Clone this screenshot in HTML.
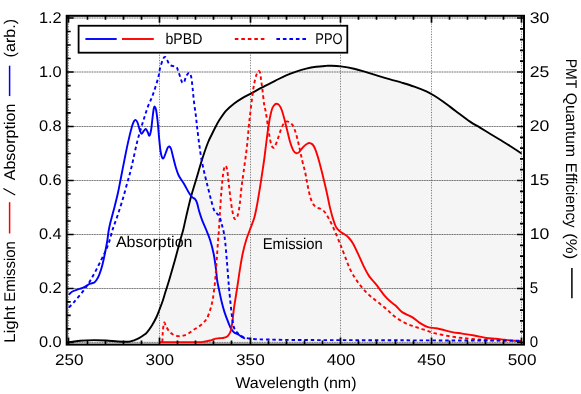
<!DOCTYPE html>
<html><head><meta charset="utf-8"><title>plot</title>
<style>html,body{margin:0;padding:0;background:#fff}svg{display:block;will-change:transform}text{font-family:"Liberation Sans",sans-serif;font-size:15.5px;fill:#000;text-rendering:geometricPrecision}</style>
</head><body>
<svg width="581" height="394" viewBox="0 0 581 394">
<rect width="581" height="394" fill="#fff"/>
<path d="M68.90 342.20 C70.75 341.95 75.80 341.05 80.00 340.70 C84.20 340.35 89.75 340.13 94.10 340.10 C98.45 340.07 102.10 340.27 106.10 340.50 C110.10 340.73 114.37 341.30 118.10 341.50 C121.83 341.70 125.85 341.90 128.50 341.70 C131.15 341.50 132.25 340.90 134.00 340.30 C135.75 339.70 137.42 338.93 139.00 338.10 C140.58 337.27 142.17 336.27 143.50 335.30 C144.83 334.33 145.60 333.93 147.00 332.30 C148.40 330.67 150.32 328.05 151.90 325.50 C153.48 322.95 155.27 319.58 156.50 317.00 C157.73 314.42 158.30 312.58 159.30 310.00 C160.30 307.42 161.48 304.50 162.50 301.50 C163.52 298.50 164.38 295.25 165.40 292.00 C166.42 288.75 167.48 285.67 168.60 282.00 C169.72 278.33 170.82 274.48 172.10 270.00 C173.38 265.52 174.93 260.10 176.30 255.10 C177.67 250.10 179.13 244.27 180.30 240.00 C181.47 235.73 182.30 233.48 183.30 229.50 C184.30 225.52 184.98 221.67 186.30 216.10 C187.62 210.53 189.43 202.62 191.20 196.10 C192.97 189.58 195.37 182.18 196.90 177.00 C198.43 171.82 199.18 169.00 200.40 165.00 C201.62 161.00 202.90 156.83 204.20 153.00 C205.50 149.17 206.82 145.33 208.20 142.00 C209.58 138.67 211.20 135.67 212.50 133.00 C213.80 130.33 215.00 127.93 216.00 126.00 C217.00 124.07 216.88 123.88 218.50 121.40 C220.12 118.92 223.13 114.05 225.70 111.10 C228.27 108.15 231.13 105.87 233.90 103.70 C236.67 101.53 239.48 99.78 242.30 98.10 C245.12 96.42 247.58 95.33 250.80 93.60 C254.02 91.87 257.57 89.82 261.60 87.70 C265.63 85.58 270.90 82.97 275.00 80.90 C279.10 78.83 282.67 76.85 286.20 75.30 C289.73 73.75 292.87 72.70 296.20 71.60 C299.53 70.50 302.87 69.50 306.20 68.70 C309.53 67.90 312.90 67.27 316.20 66.80 C319.50 66.33 323.53 66.08 326.00 65.90 C328.47 65.72 328.53 65.62 331.00 65.70 C333.47 65.78 336.95 65.88 340.80 66.40 C344.65 66.92 349.88 67.83 354.10 68.80 C358.32 69.77 362.08 71.03 366.10 72.20 C370.12 73.37 374.18 74.60 378.20 75.80 C382.22 77.00 386.18 78.23 390.20 79.40 C394.22 80.57 398.28 81.60 402.30 82.80 C406.32 84.00 410.28 85.17 414.30 86.60 C418.32 88.03 423.18 89.95 426.40 91.40 C429.62 92.85 430.78 93.57 433.60 95.30 C436.42 97.03 439.68 99.23 443.30 101.80 C446.92 104.37 450.85 107.40 455.30 110.70 C459.75 114.00 465.88 118.78 470.00 121.60 C474.12 124.42 476.67 125.58 480.00 127.60 C483.33 129.62 486.67 131.67 490.00 133.70 C493.33 135.73 496.67 137.75 500.00 139.80 C503.33 141.85 506.40 143.70 510.00 146.00 C513.60 148.30 519.67 152.33 521.60 153.60 L521.60 342.50 L68.90 342.50 Z" fill="#f5f5f5" stroke="none"/>
<g stroke="#000" stroke-width="1" fill="none">
<path d="M68.50 15.80 V344.60" opacity="0.05"/>
<path d="M68.50 15.80 V344.60" stroke-dasharray="1 1.6" opacity="0.5"/>
<path d="M159.50 15.80 V344.60" opacity="0.05"/>
<path d="M159.50 15.80 V344.60" stroke-dasharray="1 1.6" opacity="0.5"/>
<path d="M250.50 15.80 V344.60" opacity="0.05"/>
<path d="M250.50 15.80 V344.60" stroke-dasharray="1 1.6" opacity="0.5"/>
<path d="M340.50 15.80 V344.60" opacity="0.05"/>
<path d="M340.50 15.80 V344.60" stroke-dasharray="1 1.6" opacity="0.5"/>
<path d="M431.50 15.80 V344.60" opacity="0.05"/>
<path d="M431.50 15.80 V344.60" stroke-dasharray="1 1.6" opacity="0.5"/>
<path d="M521.50 15.80 V344.60" opacity="0.05"/>
<path d="M521.50 15.80 V344.60" stroke-dasharray="1 1.6" opacity="0.5"/>
<path d="M66.70 342.40 H524.00" opacity="0.2"/>
<path d="M66.70 342.40 H524.00" stroke-dasharray="1.5 1" opacity="0.4"/>
<path d="M66.70 288.50 H524.00" opacity="0.2"/>
<path d="M66.70 288.50 H524.00" stroke-dasharray="1.5 1" opacity="0.4"/>
<path d="M66.70 234.50 H524.00" opacity="0.2"/>
<path d="M66.70 234.50 H524.00" stroke-dasharray="1.5 1" opacity="0.4"/>
<path d="M66.70 180.50 H524.00" opacity="0.2"/>
<path d="M66.70 180.50 H524.00" stroke-dasharray="1.5 1" opacity="0.4"/>
<path d="M66.70 126.50 H524.00" opacity="0.2"/>
<path d="M66.70 126.50 H524.00" stroke-dasharray="1.5 1" opacity="0.4"/>
<path d="M66.70 72.00 H524.00" opacity="0.2"/>
<path d="M66.70 72.00 H524.00" stroke-dasharray="1.5 1" opacity="0.4"/>
<path d="M66.70 18.00 H524.00" opacity="0.2"/>
<path d="M66.70 18.00 H524.00" stroke-dasharray="1.5 1" opacity="0.4"/>
</g>
<path d="M68.90 342.20 C70.75 341.95 75.80 341.05 80.00 340.70 C84.20 340.35 89.75 340.13 94.10 340.10 C98.45 340.07 102.10 340.27 106.10 340.50 C110.10 340.73 114.37 341.30 118.10 341.50 C121.83 341.70 125.85 341.90 128.50 341.70 C131.15 341.50 132.25 340.90 134.00 340.30 C135.75 339.70 137.42 338.93 139.00 338.10 C140.58 337.27 142.17 336.27 143.50 335.30 C144.83 334.33 145.60 333.93 147.00 332.30 C148.40 330.67 150.32 328.05 151.90 325.50 C153.48 322.95 155.27 319.58 156.50 317.00 C157.73 314.42 158.30 312.58 159.30 310.00 C160.30 307.42 161.48 304.50 162.50 301.50 C163.52 298.50 164.38 295.25 165.40 292.00 C166.42 288.75 167.48 285.67 168.60 282.00 C169.72 278.33 170.82 274.48 172.10 270.00 C173.38 265.52 174.93 260.10 176.30 255.10 C177.67 250.10 179.13 244.27 180.30 240.00 C181.47 235.73 182.30 233.48 183.30 229.50 C184.30 225.52 184.98 221.67 186.30 216.10 C187.62 210.53 189.43 202.62 191.20 196.10 C192.97 189.58 195.37 182.18 196.90 177.00 C198.43 171.82 199.18 169.00 200.40 165.00 C201.62 161.00 202.90 156.83 204.20 153.00 C205.50 149.17 206.82 145.33 208.20 142.00 C209.58 138.67 211.20 135.67 212.50 133.00 C213.80 130.33 215.00 127.93 216.00 126.00 C217.00 124.07 216.88 123.88 218.50 121.40 C220.12 118.92 223.13 114.05 225.70 111.10 C228.27 108.15 231.13 105.87 233.90 103.70 C236.67 101.53 239.48 99.78 242.30 98.10 C245.12 96.42 247.58 95.33 250.80 93.60 C254.02 91.87 257.57 89.82 261.60 87.70 C265.63 85.58 270.90 82.97 275.00 80.90 C279.10 78.83 282.67 76.85 286.20 75.30 C289.73 73.75 292.87 72.70 296.20 71.60 C299.53 70.50 302.87 69.50 306.20 68.70 C309.53 67.90 312.90 67.27 316.20 66.80 C319.50 66.33 323.53 66.08 326.00 65.90 C328.47 65.72 328.53 65.62 331.00 65.70 C333.47 65.78 336.95 65.88 340.80 66.40 C344.65 66.92 349.88 67.83 354.10 68.80 C358.32 69.77 362.08 71.03 366.10 72.20 C370.12 73.37 374.18 74.60 378.20 75.80 C382.22 77.00 386.18 78.23 390.20 79.40 C394.22 80.57 398.28 81.60 402.30 82.80 C406.32 84.00 410.28 85.17 414.30 86.60 C418.32 88.03 423.18 89.95 426.40 91.40 C429.62 92.85 430.78 93.57 433.60 95.30 C436.42 97.03 439.68 99.23 443.30 101.80 C446.92 104.37 450.85 107.40 455.30 110.70 C459.75 114.00 465.88 118.78 470.00 121.60 C474.12 124.42 476.67 125.58 480.00 127.60 C483.33 129.62 486.67 131.67 490.00 133.70 C493.33 135.73 496.67 137.75 500.00 139.80 C503.33 141.85 506.40 143.70 510.00 146.00 C513.60 148.30 519.67 152.33 521.60 153.60" fill="none" stroke="#000" stroke-width="1.9" stroke-linejoin="round"/>
<path d="M68.90 294.60 C69.42 294.12 70.65 292.52 72.00 291.70 C73.35 290.88 75.33 290.30 77.00 289.70 C78.67 289.10 80.48 288.70 82.00 288.10 C83.52 287.50 84.75 286.83 86.10 286.10 C87.45 285.37 88.77 284.27 90.10 283.70 C91.43 283.13 93.03 283.30 94.10 282.70 C95.17 282.10 95.67 281.37 96.50 280.10 C97.33 278.83 98.17 277.43 99.10 275.10 C100.03 272.77 101.05 270.12 102.10 266.10 C103.15 262.08 104.52 255.35 105.40 251.00 C106.28 246.65 106.87 243.33 107.40 240.00 C107.93 236.67 108.08 233.98 108.60 231.00 C109.12 228.02 109.65 225.58 110.50 222.10 C111.35 218.62 112.50 214.78 113.70 210.10 C114.90 205.42 116.53 199.18 117.70 194.00 C118.87 188.82 119.58 184.65 120.70 179.00 C121.82 173.35 123.17 166.25 124.40 160.10 C125.63 153.95 126.82 147.77 128.10 142.10 C129.38 136.43 131.10 129.62 132.10 126.10 C133.10 122.58 133.50 122.02 134.10 121.00 C134.70 119.98 135.10 119.67 135.70 120.00 C136.30 120.33 137.03 121.33 137.70 123.00 C138.37 124.67 139.07 128.22 139.70 130.00 C140.33 131.78 140.83 133.53 141.50 133.70 C142.17 133.87 143.00 131.78 143.70 131.00 C144.40 130.22 145.03 128.83 145.70 129.00 C146.37 129.17 147.10 130.88 147.70 132.00 C148.30 133.12 148.73 136.03 149.30 135.70 C149.87 135.37 150.57 132.95 151.10 130.00 C151.63 127.05 152.07 121.50 152.50 118.00 C152.93 114.50 153.33 110.90 153.70 109.00 C154.07 107.10 154.30 106.43 154.70 106.60 C155.10 106.77 155.60 107.43 156.10 110.00 C156.60 112.57 157.20 117.33 157.70 122.00 C158.20 126.67 158.63 133.17 159.10 138.00 C159.57 142.83 160.00 147.72 160.50 151.00 C161.00 154.28 161.57 156.53 162.10 157.70 C162.63 158.87 163.10 158.78 163.70 158.00 C164.30 157.22 165.03 154.72 165.70 153.00 C166.37 151.28 167.10 148.78 167.70 147.70 C168.30 146.62 168.73 146.28 169.30 146.50 C169.87 146.72 170.47 147.25 171.10 149.00 C171.73 150.75 172.28 153.83 173.10 157.00 C173.92 160.17 175.07 164.92 176.00 168.00 C176.93 171.08 177.35 172.83 178.70 175.50 C180.05 178.17 182.37 181.07 184.10 184.00 C185.83 186.93 187.77 190.92 189.10 193.10 C190.43 195.28 191.10 196.10 192.10 197.10 C193.10 198.10 194.27 198.10 195.10 199.10 C195.93 200.10 196.43 201.10 197.10 203.10 C197.77 205.10 198.27 208.27 199.10 211.10 C199.93 213.93 200.93 217.03 202.10 220.10 C203.27 223.17 204.77 226.18 206.10 229.50 C207.43 232.82 208.83 235.92 210.10 240.00 C211.37 244.08 212.70 248.98 213.70 254.00 C214.70 259.02 215.53 265.77 216.10 270.10 C216.67 274.43 216.60 276.68 217.10 280.00 C217.60 283.32 218.33 286.33 219.10 290.00 C219.87 293.67 220.80 298.32 221.70 302.00 C222.60 305.68 223.42 308.75 224.50 312.10 C225.58 315.45 227.08 319.27 228.20 322.10 C229.32 324.93 230.20 327.37 231.20 329.10 C232.20 330.83 233.03 331.60 234.20 332.50 C235.37 333.40 236.87 333.73 238.20 334.50 C239.53 335.27 241.07 336.43 242.20 337.10 C243.33 337.77 244.53 338.27 245.00 338.50" fill="none" stroke="#0000ff" stroke-width="1.9" stroke-linejoin="round"/>
<path d="M160.00 342.10 C166.02 342.10 188.75 342.17 196.10 342.10 C203.45 342.03 201.77 341.97 204.10 341.70 C206.43 341.43 208.43 340.93 210.10 340.50 C211.77 340.07 212.60 339.47 214.10 339.10 C215.60 338.73 217.43 338.53 219.10 338.30 C220.77 338.07 222.75 338.00 224.10 337.70 C225.45 337.40 226.25 337.27 227.20 336.50 C228.15 335.73 229.13 334.33 229.80 333.10 C230.47 331.87 230.73 331.27 231.20 329.10 C231.67 326.93 232.13 323.60 232.60 320.10 C233.07 316.60 233.45 312.12 234.00 308.10 C234.55 304.08 235.25 300.18 235.90 296.00 C236.55 291.82 237.25 287.32 237.90 283.00 C238.55 278.68 239.02 274.93 239.80 270.10 C240.58 265.27 241.53 259.02 242.60 254.00 C243.67 248.98 245.00 244.00 246.20 240.00 C247.40 236.00 248.47 233.65 249.80 230.00 C251.13 226.35 252.97 222.42 254.20 218.10 C255.43 213.78 256.25 209.10 257.20 204.10 C258.15 199.10 259.07 193.28 259.90 188.10 C260.73 182.92 261.45 178.02 262.20 173.00 C262.95 167.98 263.58 164.15 264.40 158.00 C265.22 151.85 266.33 141.93 267.10 136.10 C267.87 130.27 268.42 126.60 269.00 123.00 C269.58 119.40 270.03 117.00 270.60 114.50 C271.17 112.00 271.75 109.62 272.40 108.00 C273.05 106.38 273.82 105.50 274.50 104.80 C275.18 104.10 275.73 103.77 276.50 103.80 C277.27 103.83 278.23 103.97 279.10 105.00 C279.97 106.03 280.87 107.83 281.70 110.00 C282.53 112.17 283.20 114.67 284.10 118.00 C285.00 121.33 286.10 125.98 287.10 130.00 C288.10 134.02 289.10 138.75 290.10 142.10 C291.10 145.45 292.10 148.27 293.10 150.10 C294.10 151.93 295.10 152.77 296.10 153.10 C297.10 153.43 297.93 153.10 299.10 152.10 C300.27 151.10 301.75 148.50 303.10 147.10 C304.45 145.70 306.08 144.37 307.20 143.70 C308.32 143.03 308.90 142.97 309.80 143.10 C310.70 143.23 311.70 143.50 312.60 144.50 C313.50 145.50 314.27 146.83 315.20 149.10 C316.13 151.37 317.17 154.60 318.20 158.10 C319.23 161.60 320.42 166.28 321.40 170.10 C322.38 173.92 323.15 177.02 324.10 181.00 C325.05 184.98 326.10 189.48 327.10 194.00 C328.10 198.52 329.10 203.92 330.10 208.10 C331.10 212.28 332.10 215.93 333.10 219.10 C334.10 222.27 334.93 225.03 336.10 227.10 C337.27 229.17 338.77 230.33 340.10 231.50 C341.43 232.67 342.70 233.10 344.10 234.10 C345.50 235.10 347.02 235.93 348.50 237.50 C349.98 239.07 351.23 240.40 353.00 243.50 C354.77 246.60 357.25 252.17 359.10 256.10 C360.95 260.03 362.43 263.77 364.10 267.10 C365.77 270.43 367.43 273.60 369.10 276.10 C370.77 278.60 372.43 280.07 374.10 282.10 C375.77 284.13 377.43 286.13 379.10 288.30 C380.77 290.47 382.27 292.93 384.10 295.10 C385.93 297.27 388.10 299.48 390.10 301.30 C392.10 303.12 394.10 304.20 396.10 306.00 C398.10 307.80 399.43 310.25 402.10 312.10 C404.77 313.95 409.10 315.27 412.10 317.10 C415.10 318.93 417.43 321.43 420.10 323.10 C422.77 324.77 425.43 326.25 428.10 327.10 C430.77 327.95 433.43 327.70 436.10 328.20 C438.77 328.70 441.42 329.45 444.10 330.10 C446.78 330.75 449.18 331.52 452.20 332.10 C455.22 332.68 458.53 333.03 462.20 333.60 C465.87 334.17 470.20 334.77 474.20 335.50 C478.20 336.23 482.60 337.45 486.20 338.00 C489.80 338.55 492.65 338.50 495.80 338.80 C498.95 339.10 502.00 339.48 505.10 339.80 C508.20 340.12 511.65 340.48 514.40 340.70 C517.15 340.92 520.40 341.03 521.60 341.10" fill="none" stroke="#ff0000" stroke-width="1.9" stroke-linejoin="round"/>
<path d="M162.40 342.00 C162.43 340.83 162.50 336.98 162.60 335.00 C162.70 333.02 162.77 332.18 163.00 330.10 C163.23 328.02 163.50 323.17 164.00 322.50 C164.50 321.83 165.17 324.67 166.00 326.10 C166.83 327.53 167.83 329.70 169.00 331.10 C170.17 332.50 171.48 333.67 173.00 334.50 C174.52 335.33 176.42 335.90 178.10 336.10 C179.78 336.30 181.43 336.10 183.10 335.70 C184.77 335.30 186.43 334.63 188.10 333.70 C189.77 332.77 191.43 331.20 193.10 330.10 C194.77 329.00 196.43 328.27 198.10 327.10 C199.77 325.93 201.60 324.60 203.10 323.10 C204.60 321.60 205.93 320.27 207.10 318.10 C208.27 315.93 209.32 312.45 210.10 310.10 C210.88 307.75 211.32 306.02 211.80 304.00 C212.28 301.98 212.60 300.50 213.00 298.00 C213.40 295.50 213.83 292.00 214.20 289.00 C214.57 286.00 214.78 284.82 215.20 280.00 C215.62 275.18 216.22 266.77 216.70 260.10 C217.18 253.43 217.70 245.35 218.10 240.00 C218.50 234.65 218.77 232.98 219.10 228.00 C219.43 223.02 219.70 216.42 220.10 210.10 C220.50 203.78 221.00 196.12 221.50 190.10 C222.00 184.08 222.60 177.85 223.10 174.00 C223.60 170.15 224.05 168.33 224.50 167.00 C224.95 165.67 225.35 165.50 225.80 166.00 C226.25 166.50 226.73 167.33 227.20 170.00 C227.67 172.67 228.10 177.65 228.60 182.00 C229.10 186.35 229.60 191.42 230.20 196.10 C230.80 200.78 231.53 206.43 232.20 210.10 C232.87 213.77 233.60 216.67 234.20 218.10 C234.80 219.53 235.20 219.20 235.80 218.70 C236.40 218.20 237.13 217.53 237.80 215.10 C238.47 212.67 239.20 208.60 239.80 204.10 C240.40 199.60 240.77 193.45 241.40 188.10 C242.03 182.75 242.67 179.00 243.60 172.00 C244.53 165.00 246.13 153.68 247.00 146.10 C247.87 138.52 248.25 132.02 248.80 126.50 C249.35 120.98 249.75 117.73 250.30 113.00 C250.85 108.27 251.47 102.92 252.10 98.10 C252.73 93.28 253.33 88.12 254.10 84.10 C254.87 80.08 255.92 76.18 256.70 74.00 C257.48 71.82 258.22 71.12 258.80 71.00 C259.38 70.88 259.82 71.78 260.20 73.30 C260.58 74.82 260.72 77.30 261.10 80.10 C261.48 82.90 262.00 86.10 262.50 90.10 C263.00 94.10 263.55 100.45 264.10 104.10 C264.65 107.75 265.27 109.02 265.80 112.00 C266.33 114.98 266.75 118.33 267.30 122.00 C267.85 125.67 268.47 130.32 269.10 134.00 C269.73 137.68 270.43 141.82 271.10 144.10 C271.77 146.38 272.43 147.37 273.10 147.70 C273.77 148.03 274.27 147.70 275.10 146.10 C275.93 144.50 277.10 140.95 278.10 138.10 C279.10 135.25 280.10 131.52 281.10 129.00 C282.10 126.48 283.10 124.27 284.10 123.00 C285.10 121.73 286.10 121.40 287.10 121.40 C288.10 121.40 289.10 122.23 290.10 123.00 C291.10 123.77 292.10 124.17 293.10 126.00 C294.10 127.83 295.10 130.65 296.10 134.00 C297.10 137.35 298.10 141.75 299.10 146.10 C300.10 150.45 301.10 155.78 302.10 160.10 C303.10 164.42 304.28 168.35 305.10 172.00 C305.92 175.65 306.35 178.67 307.00 182.00 C307.65 185.33 308.17 188.65 309.00 192.00 C309.83 195.35 310.82 199.58 312.00 202.10 C313.18 204.62 314.58 205.93 316.10 207.10 C317.62 208.27 319.60 208.20 321.10 209.10 C322.60 210.00 323.77 210.83 325.10 212.50 C326.43 214.17 327.77 216.67 329.10 219.10 C330.43 221.53 331.77 224.20 333.10 227.10 C334.43 230.00 335.93 233.68 337.10 236.50 C338.27 239.32 339.28 242.00 340.10 244.00 C340.92 246.00 341.02 245.98 342.00 248.50 C342.98 251.02 344.67 255.67 346.00 259.10 C347.33 262.53 348.48 265.93 350.00 269.10 C351.52 272.27 353.42 275.43 355.10 278.10 C356.78 280.77 358.27 282.77 360.10 285.10 C361.93 287.43 364.10 290.03 366.10 292.10 C368.10 294.17 369.93 295.67 372.10 297.50 C374.27 299.33 376.70 301.18 379.10 303.10 C381.50 305.02 384.02 306.85 386.50 309.00 C388.98 311.15 391.07 313.75 394.00 316.00 C396.93 318.25 400.75 320.75 404.10 322.50 C407.45 324.25 410.77 325.30 414.10 326.50 C417.43 327.70 420.77 328.60 424.10 329.70 C427.43 330.80 430.42 332.12 434.10 333.10 C437.78 334.08 442.18 334.87 446.20 335.60 C450.22 336.33 454.20 336.97 458.20 337.50 C462.20 338.03 465.57 338.40 470.20 338.80 C474.83 339.20 480.18 339.62 486.00 339.90 C491.82 340.18 499.17 340.32 505.10 340.50 C511.03 340.68 518.85 340.92 521.60 341.00" fill="none" stroke="#ff0000" stroke-width="1.9" stroke-linejoin="round" stroke-dasharray="3.5 2.9"/>
<path d="M68.90 307.50 C69.75 306.60 72.15 304.17 74.00 302.10 C75.85 300.03 77.98 297.60 80.00 295.10 C82.02 292.60 84.25 289.77 86.10 287.10 C87.95 284.43 89.43 281.93 91.10 279.10 C92.77 276.27 94.43 273.27 96.10 270.10 C97.77 266.93 99.60 263.12 101.10 260.10 C102.60 257.08 103.82 254.85 105.10 252.00 C106.38 249.15 107.57 246.67 108.80 243.00 C110.03 239.33 111.07 234.50 112.50 230.00 C113.93 225.50 115.73 221.00 117.40 216.00 C119.07 211.00 120.82 205.67 122.50 200.00 C124.18 194.33 126.20 186.67 127.50 182.00 C128.80 177.33 129.37 175.65 130.30 172.00 C131.23 168.35 131.97 165.08 133.10 160.10 C134.23 155.12 135.77 147.45 137.10 142.10 C138.43 136.75 139.87 132.18 141.10 128.00 C142.33 123.82 143.33 120.65 144.50 117.00 C145.67 113.35 146.67 109.92 148.10 106.10 C149.53 102.28 151.43 98.77 153.10 94.10 C154.77 89.43 156.93 82.43 158.10 78.10 C159.27 73.77 159.27 71.28 160.10 68.10 C160.93 64.92 162.27 60.85 163.10 59.00 C163.93 57.15 164.43 56.83 165.10 57.00 C165.77 57.17 166.27 58.67 167.10 60.00 C167.93 61.33 168.58 63.83 170.10 65.00 C171.62 66.17 174.85 66.00 176.20 67.00 C177.55 68.00 177.53 69.33 178.20 71.00 C178.87 72.67 179.53 75.08 180.20 77.00 C180.87 78.92 181.53 81.67 182.20 82.50 C182.87 83.33 183.53 83.08 184.20 82.00 C184.87 80.92 185.37 77.50 186.20 76.00 C187.03 74.50 188.37 72.83 189.20 73.00 C190.03 73.17 190.63 74.50 191.20 77.00 C191.77 79.50 192.13 83.83 192.60 88.00 C193.07 92.17 193.45 97.33 194.00 102.00 C194.55 106.67 195.37 111.67 195.90 116.00 C196.43 120.33 196.65 123.33 197.20 128.00 C197.75 132.67 198.50 138.83 199.20 144.00 C199.90 149.17 200.50 154.00 201.40 159.00 C202.30 164.00 203.48 169.15 204.60 174.00 C205.72 178.85 207.02 183.75 208.10 188.10 C209.18 192.45 210.10 196.43 211.10 200.10 C212.10 203.77 213.10 207.83 214.10 210.10 C215.10 212.37 216.17 212.53 217.10 213.70 C218.03 214.87 218.93 215.37 219.70 217.10 C220.47 218.83 221.03 221.62 221.70 224.10 C222.37 226.58 223.12 229.02 223.70 232.00 C224.28 234.98 224.68 237.32 225.20 242.00 C225.72 246.68 226.27 253.75 226.80 260.10 C227.33 266.45 228.00 275.12 228.40 280.10 C228.80 285.08 228.83 286.02 229.20 290.00 C229.57 293.98 230.10 299.32 230.60 304.00 C231.10 308.68 231.60 314.08 232.20 318.10 C232.80 322.12 233.20 325.50 234.20 328.10 C235.20 330.70 236.70 332.20 238.20 333.70 C239.70 335.20 241.20 336.27 243.20 337.10 C245.20 337.93 247.70 338.33 250.20 338.70 C252.70 339.07 255.57 339.17 258.20 339.30 C260.83 339.43 259.03 339.38 266.00 339.50 C272.97 339.62 277.67 339.87 300.00 340.00 C322.33 340.13 363.07 340.18 400.00 340.30 C436.93 340.42 501.33 340.63 521.60 340.70" fill="none" stroke="#0000ff" stroke-width="1.9" stroke-linejoin="round" stroke-dasharray="3.5 2.9"/>
<rect x="66.70" y="15.80" width="457.30" height="328.80" fill="none" stroke="#000" stroke-width="2"/>
<path d="M68.50 344.60 v-7.00 M68.50 15.80 v7.00 M87.50 344.60 v-4.00 M87.50 15.80 v4.00 M105.50 344.60 v-4.00 M105.50 15.80 v4.00 M123.50 344.60 v-4.00 M123.50 15.80 v4.00 M141.50 344.60 v-4.00 M141.50 15.80 v4.00 M159.50 344.60 v-7.00 M159.50 15.80 v7.00 M177.50 344.60 v-4.00 M177.50 15.80 v4.00 M195.50 344.60 v-4.00 M195.50 15.80 v4.00 M213.50 344.60 v-4.00 M213.50 15.80 v4.00 M231.50 344.60 v-4.00 M231.50 15.80 v4.00 M250.50 344.60 v-7.00 M250.50 15.80 v7.00 M268.50 344.60 v-4.00 M268.50 15.80 v4.00 M286.50 344.60 v-4.00 M286.50 15.80 v4.00 M304.50 344.60 v-4.00 M304.50 15.80 v4.00 M322.50 344.60 v-4.00 M322.50 15.80 v4.00 M340.50 344.60 v-7.00 M340.50 15.80 v7.00 M358.50 344.60 v-4.00 M358.50 15.80 v4.00 M376.50 344.60 v-4.00 M376.50 15.80 v4.00 M395.50 344.60 v-4.00 M395.50 15.80 v4.00 M413.50 344.60 v-4.00 M413.50 15.80 v4.00 M431.50 344.60 v-7.00 M431.50 15.80 v7.00 M449.50 344.60 v-4.00 M449.50 15.80 v4.00 M467.50 344.60 v-4.00 M467.50 15.80 v4.00 M485.50 344.60 v-4.00 M485.50 15.80 v4.00 M503.50 344.60 v-4.00 M503.50 15.80 v4.00 M521.50 344.60 v-7.00 M521.50 15.80 v7.00 M66.70 342.40 h7.00 M66.70 328.92 h4.00 M66.70 315.45 h4.00 M66.70 301.97 h4.00 M66.70 288.50 h7.00 M66.70 275.00 h4.00 M66.70 261.50 h4.00 M66.70 248.00 h4.00 M66.70 234.50 h7.00 M66.70 221.00 h4.00 M66.70 207.50 h4.00 M66.70 194.00 h4.00 M66.70 180.50 h7.00 M66.70 167.00 h4.00 M66.70 153.50 h4.00 M66.70 140.00 h4.00 M66.70 126.50 h7.00 M66.70 112.88 h4.00 M66.70 99.25 h4.00 M66.70 85.62 h4.00 M66.70 72.00 h7.00 M66.70 58.50 h4.00 M66.70 45.00 h4.00 M66.70 31.50 h4.00 M66.70 18.00 h7.00 M524.00 342.40 h-7.00 M524.00 331.62 h-4.00 M524.00 320.84 h-4.00 M524.00 310.06 h-4.00 M524.00 299.28 h-4.00 M524.00 288.50 h-7.00 M524.00 277.70 h-4.00 M524.00 266.90 h-4.00 M524.00 256.10 h-4.00 M524.00 245.30 h-4.00 M524.00 234.50 h-7.00 M524.00 223.70 h-4.00 M524.00 212.90 h-4.00 M524.00 202.10 h-4.00 M524.00 191.30 h-4.00 M524.00 180.50 h-7.00 M524.00 169.70 h-4.00 M524.00 158.90 h-4.00 M524.00 148.10 h-4.00 M524.00 137.30 h-4.00 M524.00 126.50 h-7.00 M524.00 115.60 h-4.00 M524.00 104.70 h-4.00 M524.00 93.80 h-4.00 M524.00 82.90 h-4.00 M524.00 72.00 h-7.00 M524.00 61.20 h-4.00 M524.00 50.40 h-4.00 M524.00 39.60 h-4.00 M524.00 28.80 h-4.00 M524.00 18.00 h-7.00" stroke="#000" stroke-width="1.7" fill="none"/>
<text x="61.70" y="347.00" text-anchor="end" textLength="22.8" lengthAdjust="spacingAndGlyphs">0.0</text>
<text x="61.70" y="293.10" text-anchor="end" textLength="22.8" lengthAdjust="spacingAndGlyphs">0.2</text>
<text x="61.70" y="239.10" text-anchor="end" textLength="22.8" lengthAdjust="spacingAndGlyphs">0.4</text>
<text x="61.70" y="185.10" text-anchor="end" textLength="22.8" lengthAdjust="spacingAndGlyphs">0.6</text>
<text x="61.70" y="131.10" text-anchor="end" textLength="22.8" lengthAdjust="spacingAndGlyphs">0.8</text>
<text x="61.70" y="76.60" text-anchor="end" textLength="22.8" lengthAdjust="spacingAndGlyphs">1.0</text>
<text x="61.70" y="22.60" text-anchor="end" textLength="22.8" lengthAdjust="spacingAndGlyphs">1.2</text>
<text x="69.22" y="364.60" text-anchor="middle" textLength="28.6" lengthAdjust="spacingAndGlyphs">250</text>
<text x="159.80" y="364.60" text-anchor="middle" textLength="28.6" lengthAdjust="spacingAndGlyphs">300</text>
<text x="250.38" y="364.60" text-anchor="middle" textLength="28.6" lengthAdjust="spacingAndGlyphs">350</text>
<text x="340.97" y="364.60" text-anchor="middle" textLength="28.6" lengthAdjust="spacingAndGlyphs">400</text>
<text x="431.55" y="364.60" text-anchor="middle" textLength="28.6" lengthAdjust="spacingAndGlyphs">450</text>
<text x="522.13" y="364.60" text-anchor="middle" textLength="28.6" lengthAdjust="spacingAndGlyphs">500</text>
<text x="529.70" y="347.00" textLength="8.4" lengthAdjust="spacingAndGlyphs">0</text>
<text x="529.70" y="293.10" textLength="8.4" lengthAdjust="spacingAndGlyphs">5</text>
<text x="529.70" y="239.10" textLength="19.6" lengthAdjust="spacingAndGlyphs">10</text>
<text x="529.70" y="185.10" textLength="19.6" lengthAdjust="spacingAndGlyphs">15</text>
<text x="529.70" y="131.10" textLength="19.6" lengthAdjust="spacingAndGlyphs">20</text>
<text x="529.70" y="76.60" textLength="19.6" lengthAdjust="spacingAndGlyphs">25</text>
<text x="529.70" y="22.60" textLength="19.6" lengthAdjust="spacingAndGlyphs">30</text>
<text x="235.30" y="388.20" textLength="121.2" lengthAdjust="spacingAndGlyphs">Wavelength (nm)</text>
<text x="115.90" y="247.00" textLength="76.6" lengthAdjust="spacingAndGlyphs">Absorption</text>
<text x="262.70" y="249.40" textLength="60.1" lengthAdjust="spacingAndGlyphs">Emission</text>
<rect x="78.6" y="25.75" width="268.7" height="26.95" fill="#fff" stroke="#000" stroke-width="1.8"/>
<path d="M85.4 39.0H116.7" stroke="#0000ff" stroke-width="1.9"/>
<path d="M122 39.0H153.8" stroke="#ff0000" stroke-width="1.9"/>
<path d="M234.8 39.0H264.6" stroke="#ff0000" stroke-width="1.9" stroke-dasharray="3.6 2.9"/>
<path d="M276.4 39.0H306.2" stroke="#0000ff" stroke-width="1.9" stroke-dasharray="3.6 2.9"/>
<text x="165.50" y="44.00" textLength="36.9" lengthAdjust="spacingAndGlyphs">bPBD</text>
<text x="315.30" y="44.00" textLength="27.2" lengthAdjust="spacingAndGlyphs">PPO</text>
<text transform="translate(14.50 342.90) rotate(-90)" textLength="37.0" lengthAdjust="spacingAndGlyphs">Light</text>
<text transform="translate(14.50 301.70) rotate(-90)" textLength="60.5" lengthAdjust="spacingAndGlyphs">Emission</text>
<path d="M9.6 233.5V202.2" stroke="#ff0000" stroke-width="1.5"/>
<path d="M15.2 194.9L3.4 188.5" stroke="#000" stroke-width="1.1"/>
<text transform="translate(14.50 180.20) rotate(-90)" textLength="76.5" lengthAdjust="spacingAndGlyphs">Absorption</text>
<path d="M9.6 96.1V65.7" stroke="#0000ff" stroke-width="1.5"/>
<text transform="translate(14.50 57.40) rotate(-90)" textLength="38.4" lengthAdjust="spacingAndGlyphs">(arb.)</text>
<text transform="translate(566.10 58.80) rotate(90)" textLength="29.4" lengthAdjust="spacingAndGlyphs">PMT</text>
<text transform="translate(566.10 92.70) rotate(90)" textLength="64.4" lengthAdjust="spacingAndGlyphs">Quantum</text>
<text transform="translate(566.10 162.80) rotate(90)" textLength="64.8" lengthAdjust="spacingAndGlyphs">Efficiency</text>
<text transform="translate(566.10 233.20) rotate(90)" textLength="26.0" lengthAdjust="spacingAndGlyphs">(%)</text>
<path d="M571.9 267.9V298.3" stroke="#000" stroke-width="1.5"/>
</svg></body></html>
